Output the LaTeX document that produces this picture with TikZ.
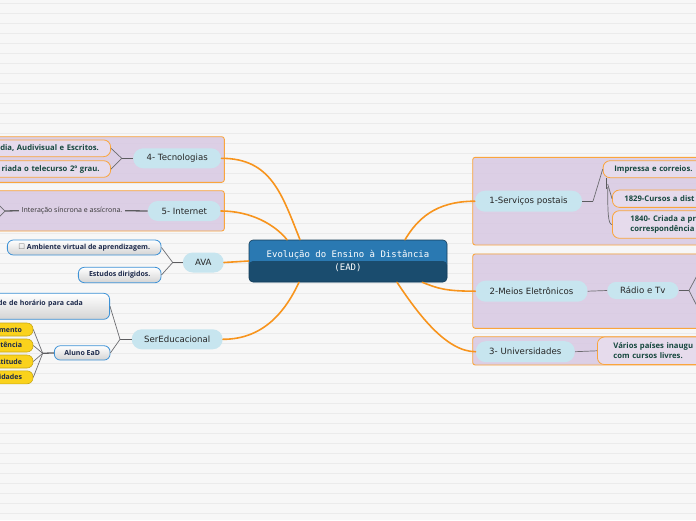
\documentclass[tikz,border=0pt]{standalone}
\usepackage{fontspec}
\setmainfont{DejaVu Sans}
\newfontfamily\notefont{Open Sans}
\newfontfamily\eadfont{DejaVu Sans Mono}
\usetikzlibrary{calc}
\definecolor{paper}{RGB}{247,247,247}
\definecolor{paperline}{RGB}{235,235,235}
\definecolor{lilac}{RGB}{216,200,226}
\definecolor{tangerine}{RGB}{247,148,29}
\definecolor{frameline}{RGB}{250,165,60}
\definecolor{sky}{RGB}{199,229,239}
\definecolor{eadtop}{RGB}{42,121,178}
\definecolor{eadlow}{RGB}{26,76,110}
\definecolor{pine}{RGB}{22,72,62}
\definecolor{navy}{RGB}{27,40,74}
\definecolor{azure}{RGB}{62,146,214}
\definecolor{sun}{RGB}{250,210,28}
\definecolor{twig}{RGB}{108,108,112}
\tikzset{
  group/.style={draw=frameline,fill=lilac,fill opacity=0.85,rounded corners=2.5pt,line width=0.9pt},
  ead/.style={draw=eadlow!80!black,fill=eadtop,rounded corners=4pt,line width=0.6pt,
    minimum width=198pt,minimum height=42pt,text=white,align=center,
    font=\eadfont\fontsize{9}{13.5}\selectfont,
    path picture={\fill[eadlow] (path picture bounding box.west) rectangle (path picture bounding box.south east);}},
  topic/.style={fill=sky,rounded corners=10pt,minimum height=20pt,inner sep=0pt,
    font=\fontsize{8.6}{9.5}\selectfont,text=black!85},
  leaf/.style={draw=frameline,fill=lilac!65!white,rounded corners=7pt,line width=0.8pt,
    inner ysep=0pt,align=left,font=\notefont\bfseries\fontsize{7.7}{10.4}\selectfont,text=pine},
  note/.style={draw=azure,top color=white,bottom color=black!17,rounded corners=6pt,line width=0.8pt,
    inner ysep=0pt,font=\notefont\bfseries\fontsize{7}{8}\selectfont,text=navy},
  chip/.style={draw=sun!80!black,fill=sun,rounded corners=6pt,line width=0.6pt,anchor=east,
    minimum height=13pt,inner ysep=0pt,inner xsep=11pt,text width=60pt,align=right,
    font=\notefont\bfseries\fontsize{7}{8}\selectfont,text=navy},
  branch/.style={draw=tangerine,line width=1.6pt,line cap=round},
  stub/.style={draw=twig!85!black,line width=1.3pt},
  sprig/.style={draw=twig,line width=0.7pt},
}
\begin{document}
\begin{tikzpicture}[x=1pt,y=-1pt]
  \useasboundingbox (0,0) rectangle (696,520);
  \fill[paper] (0,0) rectangle (696,520);
  \foreach \y in {3.3,13.3,...,520} \draw[paperline,line width=1pt] (0,\y) -- (696,\y);
  \draw[group] (-10,136.7) rectangle (224.3,182.3);
  \draw[group] (-10,190.7) rectangle (224.3,231);
  \draw[group] (472.7,157.3) rectangle (710,245);
  \draw[group] (472.7,254) rectangle (710,328.3);
  \draw[group] (472.7,336.7) rectangle (710,365);

  \node[ead] (ead) at (348,261) {Evolução do Ensino à Distância\\(EAD)};
  \node[topic,minimum width=88pt] (tec) at (177.2,158.3) {4- Tecnologias};
  \node[topic,minimum width=73pt] (net) at (184.3,211) {5- Internet};
  \node[topic,minimum width=41pt] (ava) at (203.3,262.5) {AVA};
  \node[topic,minimum width=91pt] (ser) at (177.2,339.3) {SerEducacional};
  \node[topic,minimum width=107pt,minimum height=21pt] (post) at (528.5,201.2) {1-Serviços postais};
  \node[topic,minimum width=112pt,minimum height=21pt] (meios) at (531.5,291.2) {2-Meios Eletrônicos};
  \node[topic,minimum width=99pt,minimum height=21pt] (univ) at (525.3,351.7) {3- Universidades};
  \node[topic,minimum width=71pt,minimum height=17pt,rounded corners=8.5pt] (radio) at (642.8,290.5) {Rádio e Tv};

  \node[leaf,anchor=west,minimum height=17pt,inner xsep=11.3pt,text width=110pt] (imp) at (602.7,169.2) {Impressa e correios.};
  \node[leaf,anchor=west,minimum height=17.3pt,inner xsep=12pt,text width=110pt] (c1829) at (612,198.7) {1829-Cursos a dist};
  \node[leaf,anchor=west,minimum height=27.6pt,inner xsep=18pt,text width=110pt] (c1840) at (612,224.5) {1840- Criada a pr\\correspondência};
  \node[leaf,anchor=west,minimum height=27.5pt,inner xsep=16pt,text width=110pt] (varios) at (597,350.8) {Vários países inaugu\\com cursos livres.};
  \node[leaf,anchor=east,minimum height=16.7pt,inner xsep=11.7pt,text width=110pt,align=right] (midia) at (111,148.3) {dia, Audivisual e Escritos.};
  \node[leaf,anchor=east,minimum height=16.6pt,inner xsep=11pt,text width=110pt,align=right] (tv2) at (111,169) {riada o telecurso 2º grau.};
  \node[inner xsep=2.5pt,inner ysep=1pt,font=\notefont\fontsize{7}{8}\selectfont,text=black!80] (sinc) at (72,210.7) {Interação síncrona e assícrona.};

  \node[note,minimum width=153.7pt,minimum height=15pt] (amb) at (84.2,247.5)
    {{\normalfont\fontsize{7.5}{8}\selectfont\textcolor{black!55}{☐}} Ambiente virtual de aprendizagem.};
  \node[note,minimum width=82.7pt,minimum height=15.4pt] (est) at (119.7,275) {Estudos dirigidos.};
  \node[note,anchor=east,minimum height=26pt,inner xsep=26.7pt,text width=110pt,align=right,text depth=7.5pt] (flex) at (110,306.3) {de de horário para cada};
  \node[note,minimum width=55.7pt,minimum height=14.3pt] (aluno) at (82.2,352.9) {Aluno EaD};
  \foreach \w/\y [count=\i] in {Conhecimento/329.5,Competência/345.5,Atitude/361.5,Habilidades/377.3}
    \node[chip] (cha\i) at (33.3,\y) {\w};

  \draw[branch] ($(ead.north)+(-48,0)$) .. controls +(-18,-45) and +(50,0) .. (tec.east);
  \draw[branch] ($(ead.north)+(-61,0)$) .. controls +(-12,-15) and +(30,0) .. (net.east);
  \draw[branch] (ead.west) -- (ava.east);
  \draw[branch] ($(ead.south)+(-49,0)$) .. controls +(-14,30) and +(40,0) .. (ser.east);
  \draw[branch] ($(ead.north)+(57,0)$) .. controls +(12,-20) and +(-40,0) .. (post.west);
  \draw[branch] ($(ead.south east)+(-25,0)$) .. controls +(15,6) and +(-30,0) .. (meios.west);
  \draw[branch] ($(ead.south)+(49,0)$) .. controls +(20,30) and +(-30,0) .. (univ.west);

  \coordinate (tecfork) at (121.7,158.3);
  \draw[stub] (tec.west) -- (tecfork);
  \draw[sprig] (midia.east) -- (tecfork) -- (tv2.east);
  \coordinate (sincfork) at (5,211);
  \coordinate (sincup) at (-3,203);
  \coordinate (sincdown) at (-3,219);
  \draw[stub] (net.west) -- (sinc.east);
  \draw[stub] (sinc.west) -- (sincfork);
  \draw[sprig] (sincup) -- (sincfork) -- (sincdown);
  \coordinate (avafork) at (172.7,262.5);
  \draw[stub] (ava.west) -- (avafork);
  \draw[sprig] (amb.east) -- (avafork) -- (est.east);
  \coordinate (serfork) at (120,339.3);
  \draw[stub] (ser.west) -- (serfork);
  \draw[sprig] (flex.east) -- (serfork) -- (aluno.east);
  \coordinate (alunofork) at (42.7,353.3);
  \draw[stub] (aluno.west) -- (alunofork);
  \foreach \i in {1,...,4} \draw[sprig] (alunofork) -- (cha\i.east);

  \coordinate (postfork) at (593,201.2);
  \draw[stub] (post.east) -- (postfork);
  \draw[sprig] (postfork) -- (imp.west);
  \coordinate (impfork) at (606.7,189);
  \draw[stub] ($(imp.south west)+(4,0)$) -- (impfork);
  \draw[sprig] ($(imp.south west)+(5,6)$) -- (c1829.west);
  \draw[sprig] ($(imp.south west)+(5,9)$) .. controls +(0,25) and +(-4,0) .. (c1840.west);
  \draw[sprig] (meios.east) -- (radio.west);
  \coordinate (radiofork) at (689,290.5);
  \coordinate (radioup) at (700,270);
  \coordinate (radiodown) at (700,312);
  \draw[stub] (radio.east) -- (radiofork);
  \draw[sprig] (radioup) -- (radiofork) -- (radiodown);
  \draw[sprig] (univ.east) -- (varios.west);
\end{tikzpicture}
\end{document}
